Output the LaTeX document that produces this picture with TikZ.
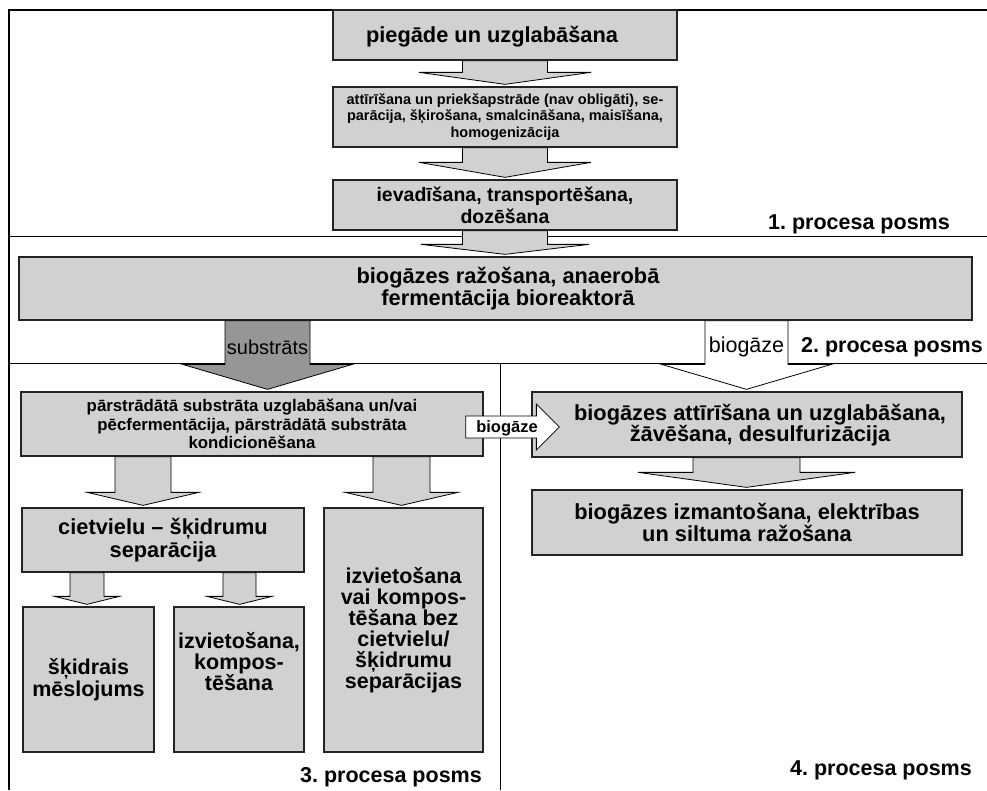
\documentclass[tikz,border=0pt]{standalone}
\usepackage{fontspec}
\setmainfont{Liberation Sans}
\usetikzlibrary{calc}
\frenchspacing

\definecolor{boxgray}{RGB}{209,209,209}
\definecolor{pipegray}{RGB}{150,150,150}
\definecolor{edgegray}{RGB}{35,35,35}

\newcommand\fs[2]{\fontsize{#1}{#2}\selectfont}

\tikzset{
  stage/.style={draw=edgegray, line width=1.3pt, fill=boxgray, inner sep=0pt,
                align=center, font=\bfseries},
  flow/.style={draw=black, line width=0.8pt, fill=boxgray, line join=miter},
  divider/.style={line width=0.8pt},
  frame/.style={line width=2.6pt},
  phase/.style={font=\fs{21.5}{22}\bfseries, inner sep=0pt, anchor=base east},
  pipelabel/.style={inner sep=0pt, anchor=base},
}

% block arrow pointing down from the bottom of #2 to the top of #3
% #4 x of the axis, #5 half width of the shaft, #6 half width of the head, #7 head length
\newcommand\flowdown[7][]{%
  \filldraw[flow,#1] let \p1=(#2.south), \p2=(#3.north) in
    ({(#4-#5)*1pt},\y1) -- ({(#4-#5)*1pt},{\y2+(2+#7)*1pt})
    -- ({(#4-#6)*1pt},{\y2+(2+#7)*1pt}) -- ({#4*1pt},{\y2+2pt})
    -- ({(#4+#6)*1pt},{\y2+(2+#7)*1pt}) -- ({(#4+#5)*1pt},{\y2+(2+#7)*1pt})
    -- ({(#4+#5)*1pt},\y1) -- cycle;}

\begin{document}
\begin{tikzpicture}[x=1pt,y=-1pt]
\useasboundingbox (0,0) rectangle (987,790);

% phase borders
\draw[divider] (9,236) -- (987,236);
\draw[divider] (9,363) -- (987,363);
\draw[divider] (500,363) -- (500,790);
\draw[frame] (9,790) -- (9,10) -- (987,10);

% process stages
\node[stage, minimum width=344pt, minimum height=50pt] (b1) at (505,35) {};
\node[font=\fs{21.8}{22}\bfseries, inner sep=0pt] at (492,37) {piegāde un uzglabāšana};

\node[stage, minimum width=344pt, minimum height=60pt, font=\fs{14.5}{16.7}\bfseries] (b2) at (505,117)
  {attīrīšana un priekšapstrāde (nav obligāti), se-\\parācija, šķirošana, smalcināšana, maisīšana,\\homogenizācija};

\node[stage, minimum width=344pt, minimum height=50pt, font=\fs{19.5}{21.7}\bfseries] (b3) at (505,205)
  {ievadīšana, transportēšana,\\dozēšana};

\node[stage, minimum width=953pt, minimum height=63pt] (b4) at (495.5,288.5) {};
\node[font=\fs{21.8}{22}\bfseries, align=center, inner sep=0pt] at (508,289)
  {biogāzes ražošana, anaerobā\\fermentācija bioreaktorā};

\node[stage, minimum width=462pt, minimum height=64pt, font=\fs{16.8}{18.5}\bfseries] (b5) at (252,424)
  {pārstrādātā substrāta uzglabāšana un/vai\\pēcfermentācija, pārstrādātā substrāta\\kondicionēšana};

\node[stage, minimum width=430pt, minimum height=65pt] (b6) at (747,424.5) {};
\node[font=\fs{21.8}{21.7}\bfseries, align=center, inner sep=0pt] at (760,425)
  {biogāzes attīrīšana un uzglabāšana,\\žāvēšana, desulfurizācija};

\node[stage, minimum width=430pt, minimum height=65pt, font=\fs{21.8}{21.7}\bfseries] (b7) at (747,522.5)
  {biogāzes izmantošana, elektrības\\un siltuma ražošana};

\node[stage, minimum width=282pt, minimum height=64pt, font=\fs{21.8}{22.3}\bfseries] (b8) at (163,540)
  {cietvielu – šķidrumu\\separācija};

\node[stage, minimum width=159pt, minimum height=244pt, font=\fs{21.5}{21}\bfseries] (b9) at (403.5,630)
  {izvietošana\\vai kompos-\\tēšana bez\\cietvielu/\\šķidrumu\\separācijas};

\node[stage, minimum width=131pt, minimum height=145pt, font=\fs{21.5}{22}\bfseries] (b10) at (88.5,679.5)
  {šķidrais\\mēslojums};

\node[stage, minimum width=130pt, minimum height=145pt] (b11) at (239,679.5) {};
\node[font=\fs{21.5}{21}\bfseries, align=center, inner sep=0pt] at ($(b11.center)+(0,-18)$)
  {izvietošana,\\kompos-\\tēšana};

% flows between the stages
\flowdown{b1}{b2}{505}{42.5}{86}{12}
\flowdown{b2}{b3}{505}{42.5}{86}{15}
\flowdown{b3}{b4}{505}{42.5}{84}{10}
\flowdown[fill=pipegray]{b4}{b5}{267.5}{42.5}{85}{25}
\flowdown[fill=white]{b4}{b6}{746.5}{41.5}{85}{25}
\flowdown{b5}{b8}{143}{28}{56}{13}
\flowdown{b5}{b9}{401.5}{28.5}{56.5}{13}
\flowdown{b6}{b7}{746.5}{53.5}{108.5}{15}
\flowdown{b8}{b10}{87}{17}{32.5}{8}
\flowdown{b8}{b11}{239.5}{16.5}{32.5}{8}

% biogas drawn off the digestate store
\filldraw[flow, fill=white] let \p1=(b5.east), \p2=(b6.west) in
  ({\x1-18pt},-416pt) -- ({\x2+5pt},-416pt) -- ({\x2+5pt},-404pt)
  -- ({\x2+28pt},-427pt) -- ({\x2+5pt},-450pt) -- ({\x2+5pt},-438pt)
  -- ({\x1-18pt},-438pt) -- cycle;
\node[font=\fs{16.5}{16.5}\bfseries, inner sep=0pt] at (507,428) {biogāze};

% flow labels
\node[pipelabel, font=\fs{20}{20}] at (267.5,354) {substrāts};
\node[pipelabel, font=\fs{21.5}{21.5}] at (746.5,352) {biogāze};

% phase labels
\node[phase] at (950,229) {1. procesa posms};
\node[phase] at (983,352) {2. procesa posms};
\node[phase] at (482,782) {3. procesa posms};
\node[phase] at (972,775) {4. procesa posms};
\end{tikzpicture}
\end{document}
